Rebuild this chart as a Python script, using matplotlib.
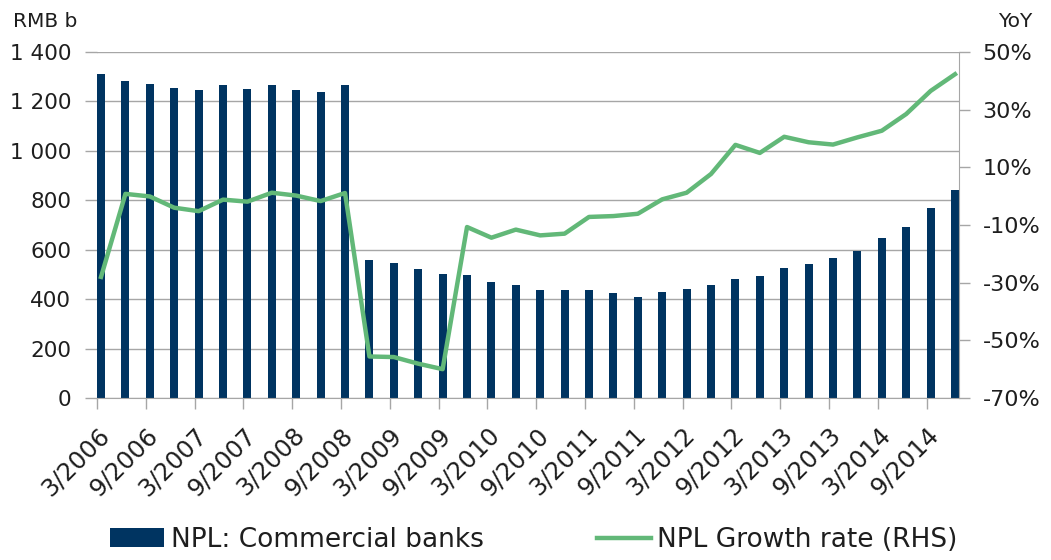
import numpy as np
import matplotlib.pyplot as plt
from matplotlib.ticker import FuncFormatter, MultipleLocator
from matplotlib.transforms import ScaledTranslation

# NPL of commercial banks, RMB bn, quarterly 3/2006 - 12/2014
npl = [1313, 1283, 1272, 1256, 1245, 1267, 1251, 1267, 1245, 1240, 1267,
       558, 547, 520, 501, 496, 469, 457, 437, 437, 437, 423, 407, 430,
       442, 458, 481, 492, 527, 543, 566, 594, 649, 693, 767, 840]
# YoY growth, %
growth = [-28.0, 0.8, -0.1, -4.0, -5.2, -1.2, -1.9, 1.2, 0.2, -1.7, 1.1,
          -55.6, -55.8, -58.1, -60.0, -10.7, -14.4, -11.6, -13.6, -13.0,
          -7.2, -6.9, -6.1, -1.1, 1.2, 7.7, 17.8, 15.0, 20.6, 18.7, 17.9,
          20.4, 22.7, 28.5, 36.5, 42.3]
tick_labels = ['3/2006', '9/2006', '3/2007', '9/2007', '3/2008', '9/2008',
               '3/2009', '9/2009', '3/2010', '9/2010', '3/2011', '9/2011',
               '3/2012', '9/2012', '3/2013', '9/2013', '3/2014', '9/2014']

bar_color = '#003461'
line_color = '#62b878'
grid_color = '#a6a6a6'
text_color = '#1e1e1e'

plt.rcParams['font.family'] = 'DejaVu Sans'

fig = plt.figure(figsize=(10.51, 5.6), dpi=100)
ax = fig.add_axes([0.0923, 0.2893, 0.8202, 0.6178])
ax2 = ax.twinx()

x = np.arange(len(npl))
off = 0.165
ax.bar(x, npl, width=0.33, color=bar_color, label='NPL: Commercial banks', zorder=2)
ax2.plot(x, growth, color=line_color, lw=3.2, label='NPL Growth rate (RHS)',
         solid_joinstyle='round')

ax.set_xlim(-off, len(npl) - 1 + off)
ax.set_ylim(0, 1400)
ax.yaxis.set_major_locator(MultipleLocator(200))
ax.yaxis.set_major_formatter(FuncFormatter(lambda v, p: f'{int(v):,}'.replace(',', ' ')))
ax.grid(axis='y', color=grid_color, lw=1)
ax.set_axisbelow(True)

ax2.set_ylim(-70, 50)
ax2.set_yticks(np.arange(-70, 51, 20))
ax2.yaxis.set_major_formatter(FuncFormatter(lambda v, p: f'{int(v)}%'))

ax.set_xticks(np.arange(0, len(npl), 2) - off)
ax.set_xticklabels(tick_labels, rotation=45, ha='right', rotation_mode='anchor')
shift = ScaledTranslation(0.06, 0, fig.dpi_scale_trans)
for lab in ax.get_xticklabels():
    lab.set_transform(lab.get_transform() + shift)

for a in (ax, ax2):
    for s in ('top', 'left'):
        a.spines[s].set_visible(False)
    a.spines['bottom'].set_color(grid_color)
    a.spines['right'].set_color(grid_color)
ax2.spines['bottom'].set_visible(False)
ax.spines['right'].set_visible(False)

ax.tick_params(axis='y', length=9, color=grid_color, width=1, pad=9.5,
               labelsize=15.5, labelcolor=text_color)
ax.tick_params(axis='x', length=8, color=grid_color, width=1, pad=10,
               labelsize=17.5, labelcolor=text_color)
ax2.tick_params(axis='y', length=8, color=grid_color, width=1, pad=9,
                labelsize=16, labelcolor=text_color)

fig.text(0.012, 0.961, 'RMB b', fontsize=14.5, va='center', color=text_color)
fig.text(0.9496, 0.961, 'YoY', fontsize=14.5, va='center', color=text_color)

h1, l1 = ax.get_legend_handles_labels()
h2, l2 = ax2.get_legend_handles_labels()
fig.legend(h1 + h2, l1 + l2, loc='center', bbox_to_anchor=(0.508, 0.036),
           ncol=2, frameon=False, fontsize=19, handlelength=2.05,
           handletextpad=0.23, columnspacing=4.3, labelcolor=text_color)

fig.savefig('out.png', dpi=100)
